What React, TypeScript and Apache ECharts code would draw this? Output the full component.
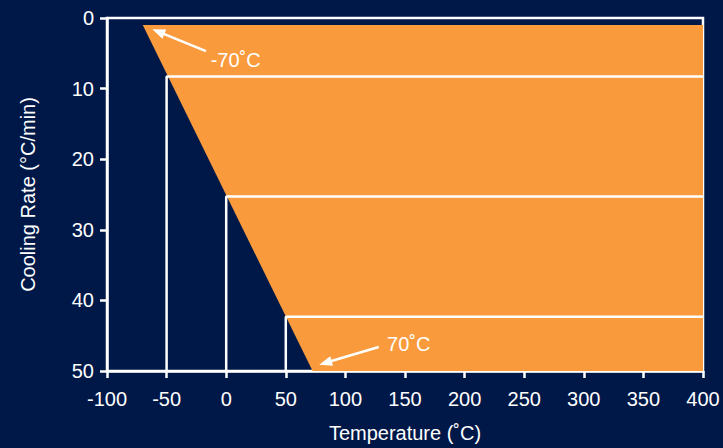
import React, { useEffect, useRef } from "react";
import * as echarts from "echarts";

const xTicks = [-100, 400, 50];
const yTicks = [0, 50, 10];
const regionPolygon: number[][] = [
  [-70, 1],
  [400, 1],
  [400, 50],
  [72.5, 50],
];
const step1: number[][] = [[-50, 50], [-50, 8.3], [400, 8.3]];
const step2: number[][] = [[0, 50], [0, 25.3], [400, 25.3]];
const step3: number[][] = [[50, 50], [50, 42.3], [400, 42.3]];
// annotation: [tailX, tailY, headX, headY, textX, textY]
const annotationLabels = ["-70˚C", "70˚C"];
const annotations: number[][] = [
  [-17, 4.7, -62, 1.6, -13, 5.9],
  [128, 46.6, 78, 49.1, 135, 46.2],
];

const NAVY = "#001848";
const ORANGE = "#F99B3C";
const FONT = "'Liberation Sans', Arial, sans-serif";
const FS = 20;

export default function App() {
  const ref = useRef<HTMLDivElement>(null);
  useEffect(() => {
    const chart = echarts.init(ref.current!, null, { renderer: "svg" });
    const lineSeries = (d: number[][]) => ({
      type: "line",
      data: d,
      showSymbol: false,
      symbol: "none",
      lineStyle: { color: "#fff", width: 2.5 },
      z: 3,
    });
    chart.setOption({
      animation: false,
      backgroundColor: NAVY,
      grid: {
        left: 107,
        right: 20,
        top: 18,
        bottom: 75,
        show: true,
        borderColor: "#fff",
        borderWidth: 2.5,
      },
      xAxis: {
        type: "value",
        min: xTicks[0],
        max: xTicks[1],
        interval: xTicks[2],
        name: "Temperature (˚C)",
        nameLocation: "middle",
        nameGap: 52,
        nameTextStyle: { color: "#fff", fontSize: FS, fontFamily: FONT },
        axisLine: { show: true, onZero: false, lineStyle: { color: "#fff", width: 2.5 } },
        axisTick: { show: true, length: 7, lineStyle: { color: "#fff", width: 2.5 } },
        axisLabel: { color: "#fff", fontSize: FS, fontFamily: FONT, margin: 18 },
        splitLine: { show: false },
      },
      yAxis: {
        type: "value",
        inverse: true,
        min: yTicks[0],
        max: yTicks[1],
        interval: yTicks[2],
        name: "Cooling Rate (°C/min)",
        nameLocation: "middle",
        nameGap: 69,
        nameTextStyle: { color: "#fff", fontSize: FS, fontFamily: FONT },
        axisLine: { show: true, onZero: false, lineStyle: { color: "#fff", width: 2.5 } },
        axisTick: { show: true, length: 7, lineStyle: { color: "#fff", width: 2.5 } },
        axisLabel: { color: "#fff", fontSize: FS, fontFamily: FONT, margin: 13 },
        splitLine: { show: false },
      },
      series: [
        {
          type: "custom",
          data: [0],
          z: 1,
          renderItem: (params: any, api: any) => {
            const pts = regionPolygon.map((p) => api.coord(p));
            return {
              type: "polygon",
              shape: { points: pts },
              style: { fill: ORANGE },
            };
          },
        },
        lineSeries(step1),
        lineSeries(step2),
        lineSeries(step3),
        {
          type: "custom",
          data: annotations,
          z: 4,
          renderItem: (params: any, api: any) => {
            const a = annotations[params.dataIndex];
            const t = api.coord([a[0], a[1]]);
            const h = api.coord([a[2], a[3]]);
            const tx = api.coord([a[4], a[5]]);
            const dx = h[0] - t[0];
            const dy = h[1] - t[1];
            const len = Math.sqrt(dx * dx + dy * dy);
            const ux = dx / len;
            const uy = dy / len;
            const headLen = 13;
            const headW = 5;
            const bx = h[0] - ux * headLen;
            const by = h[1] - uy * headLen;
            return {
              type: "group",
              children: [
                {
                  type: "line",
                  shape: { x1: t[0], y1: t[1], x2: bx + ux * 2, y2: by + uy * 2 },
                  style: { stroke: "#fff", lineWidth: 2.5 },
                },
                {
                  type: "polygon",
                  shape: {
                    points: [
                      [h[0], h[1]],
                      [bx - uy * headW, by + ux * headW],
                      [bx + uy * headW, by - ux * headW],
                    ],
                  },
                  style: { fill: "#fff" },
                },
                {
                  type: "text",
                  x: tx[0],
                  y: tx[1],
                  style: {
                    text: annotationLabels[params.dataIndex],
                    fill: "#fff",
                    font: `${FS}px ${FONT}`,
                    textAlign: "left",
                    textVerticalAlign: "middle",
                  },
                },
              ],
            };
          },
        },
      ],
    });
    return () => chart.dispose();
  }, []);
  return <div ref={ref} style={{ width: 723, height: 448, position: "absolute", left: 0, top: 0 }} />;
}
